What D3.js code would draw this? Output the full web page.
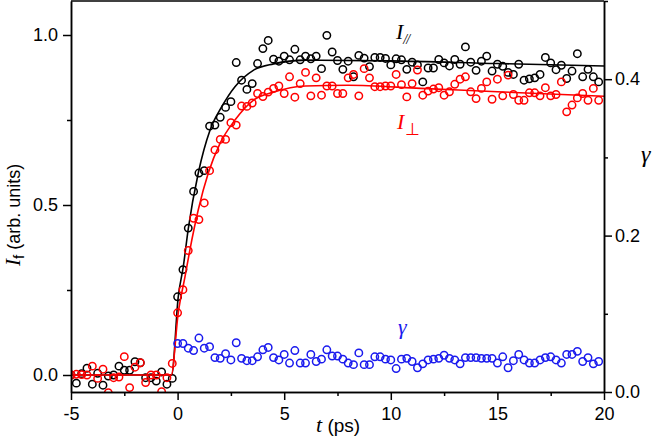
<!DOCTYPE html>
<html><head><meta charset="utf-8">
<script src="https://cdn.jsdelivr.net/npm/d3@7"></script>
<style>body{margin:0;background:#fff} svg{display:block}</style>
</head><body>
<svg id="c" width="655" height="439"></svg>
<script>
// time sampling of the measured series (ps)
const tStart = -5, tStep = 0.25;
// I parallel (black)
const iPar = [0.000,-0.024,0.004,0.020,-0.027,0.005,-0.030,-0.003,0.000,0.026,
 0.014,0.014,0.039,0.036,-0.008,-0.008,-0.018,0.009,-0.027,-0.010,
 0.230,0.310,0.432,0.540,0.594,0.601,0.732,0.735,0.758,0.787,
 0.804,0.919,0.867,0.840,0.857,0.916,0.960,0.984,0.929,0.923,
 0.938,0.927,0.958,0.927,0.938,0.930,0.938,0.901,0.999,0.950,
 0.925,0.899,0.923,0.877,0.940,0.932,0.907,0.934,0.934,0.931,
 0.912,0.930,0.927,0.899,0.920,0.912,0.862,0.903,0.903,0.928,
 0.918,0.909,0.928,0.914,0.965,0.920,0.896,0.923,0.938,0.894,
 0.914,0.908,0.890,0.884,0.914,0.867,0.871,0.874,0.884,0.934,
 0.918,0.898,0.911,0.872,0.894,0.945,0.877,0.899,0.877,0.862];
// I perpendicular (red)
const iPerp = [0.000,0.002,0.001,0.000,0.026,-0.010,0.017,-0.052,-0.008,-0.006,
 0.054,-0.037,0.023,0.036,-0.022,0.000,0.000,-0.049,-0.008,0.034,
 0.183,0.251,0.366,0.461,0.457,0.506,0.601,0.662,0.693,0.693,
 0.742,0.735,0.791,0.790,0.800,0.828,0.819,0.832,0.843,0.850,
 0.828,0.877,0.817,0.857,0.890,0.821,0.874,0.823,0.850,0.850,
 0.828,0.828,0.874,0.884,0.821,0.901,0.874,0.848,0.848,0.850,
 0.850,0.884,0.854,0.818,0.857,0.897,0.823,0.835,0.841,0.845,
 0.823,0.833,0.855,0.870,0.877,0.833,0.813,0.843,0.862,0.811,
 0.870,0.821,0.882,0.825,0.808,0.808,0.830,0.830,0.821,0.845,
 0.821,0.825,0.862,0.774,0.794,0.815,0.828,0.808,0.843,0.808];
// anisotropy gamma (blue), starts at t = 0
const gammaStart = 0;
const gamma = [0.062,0.062,0.056,0.053,0.069,0.056,0.058,0.044,0.043,0.049,
 0.041,0.063,0.043,0.040,0.040,0.045,0.054,0.057,0.044,0.041,
 0.048,0.037,0.053,0.037,0.037,0.048,0.039,0.042,0.054,0.046,
 0.046,0.042,0.037,0.035,0.050,0.035,0.035,0.045,0.045,0.042,
 0.041,0.030,0.042,0.043,0.039,0.031,0.036,0.041,0.042,0.043,
 0.047,0.043,0.041,0.036,0.044,0.044,0.044,0.043,0.043,0.043,
 0.037,0.045,0.031,0.040,0.048,0.041,0.037,0.037,0.041,0.044,
 0.045,0.041,0.037,0.048,0.048,0.052,0.039,0.044,0.036,0.039];
// fitted curves
const fitParT = [-5,-0.28,0.03,0.27,0.5,0.97,1.52,2.07,2.69,3.55,4.5,6,10,15,20];
const fitParV = [0,0,0.23,0.32,0.43,0.594,0.72,0.789,0.848,0.896,0.915,0.926,0.924,0.916,0.909];
const fitPerpT = [-5,-0.3,0.03,0.35,0.58,0.97,1.44,1.99,2.69,3.55,4.5,6,8,11.4,15,20];
const fitPerpV = [0,0,0.183,0.29,0.369,0.486,0.594,0.681,0.75,0.808,0.832,0.85,0.852,0.843,0.833,0.82];
// ticks
const xTicks = [-5,0,5,10,15,20], xTickLabels = ["-5","0","5","10","15","20"];
const xMinor = [-2.5,2.5,7.5,12.5,17.5];
const yLTicks = [0,0.5,1.0], yLTickLabels = ["0.0","0.5","1.0"], yLMinor = [0.25,0.75];
const yRTicks = [0,0.2,0.4], yRTickLabels = ["0.0","0.2","0.4"], yRMinor = [0.1,0.3,0.5];

const L=71, R=604, T=1, B=392;
const svg = d3.select("#c");
const x = d3.scaleLinear([-5,20],[L,R]);
const yL = d3.scaleLinear([-0.05,1.1],[B,T]);
const yR = d3.scaleLinear([0,0.5],[B,T]);
const sans = "'Liberation Sans', Arial, sans-serif";
const serif = "'Liberation Serif', 'Times New Roman', serif";

svg.append("defs").append("clipPath").attr("id","clip")
  .append("rect").attr("x",L).attr("y",T).attr("width",R-L).attr("height",B-T);

const plot = svg.append("g").attr("clip-path","url(#clip)");
const parPts = iPar.map((v,i)=>({t:tStart+i*tStep, v}));
const perpPts = iPerp.map((v,i)=>({t:tStart+i*tStep, v}));
const gPts = gamma.map((v,i)=>({t:gammaStart+i*tStep, v}));

function circles(data, ys, color){
  plot.append("g").selectAll("circle").data(data).join("circle")
    .attr("cx",d=>x(d.t)).attr("cy",d=>ys(d.v)).attr("r",3.7)
    .attr("fill","none").attr("stroke",color).attr("stroke-width",1.5);
}
const line = d3.line().x(d=>x(d[0])).y(d=>yL(d[1])).curve(d3.curveMonotoneX);
circles(parPts, yL, "#000");
plot.append("path").attr("d", line(fitParT.map((t,i)=>[t,fitParV[i]])))
  .attr("fill","none").attr("stroke","#000").attr("stroke-width",1.6);
circles(perpPts, yL, "#f00");
plot.append("path").attr("d", line(fitPerpT.map((t,i)=>[t,fitPerpV[i]])))
  .attr("fill","none").attr("stroke","#f00").attr("stroke-width",1.6);
circles(gPts, yR, "#1a1aee");

// axes
function style(g){
  g.selectAll("path,line").attr("stroke","#000").attr("stroke-width",1.5);
  g.selectAll("text").attr("font-family",sans).attr("font-size",18).attr("fill","#000");
}
svg.append("g").attr("transform",`translate(0,${B})`)
  .call(d3.axisBottom(x).tickValues(xTicks).tickFormat((d,i)=>xTickLabels[i]).tickSize(8).tickSizeOuter(0).tickPadding(7)).call(style);
svg.append("g").attr("transform",`translate(0,${B})`)
  .call(d3.axisBottom(x).tickValues(xMinor).tickFormat("").tickSize(4).tickSizeOuter(0)).call(style);
svg.append("g").attr("transform",`translate(${L},0)`)
  .call(d3.axisLeft(yL).tickValues(yLTicks).tickFormat((d,i)=>yLTickLabels[i]).tickSize(8).tickSizeOuter(0).tickPadding(5)).call(style);
svg.append("g").attr("transform",`translate(${L},0)`)
  .call(d3.axisLeft(yL).tickValues(yLMinor).tickFormat("").tickSize(4).tickSizeOuter(0)).call(style);
svg.append("g").attr("transform",`translate(${R},0)`)
  .call(d3.axisRight(yR).tickValues(yRTicks).tickFormat((d,i)=>yRTickLabels[i]).tickSize(8).tickSizeOuter(0).tickPadding(3)).call(style);
svg.append("g").attr("transform",`translate(${R},0)`)
  .call(d3.axisRight(yR).tickValues(yRMinor).tickFormat("").tickSize(4).tickSizeOuter(0)).call(style);
svg.append("line").attr("x1",L).attr("x2",R).attr("y1",T).attr("y2",T)
  .attr("stroke","#000").attr("stroke-width",1.5);

// axis titles
const xt = svg.append("text").attr("x",316).attr("y",432).attr("font-family",sans).attr("font-size",19);
xt.append("tspan").attr("font-family",serif).attr("font-style","italic").attr("font-size",22).text("t");
xt.append("tspan").text(" (ps)");

const yt = svg.append("text").attr("transform","translate(20,266) rotate(-90)").attr("font-family",sans).attr("font-size",18);
yt.append("tspan").attr("font-family",serif).attr("font-style","italic").attr("font-size",21).text("I");
yt.append("tspan").attr("font-size",15).attr("dy",4).text("f");
yt.append("tspan").attr("dy",-4).text(" (arb. units)");

svg.append("text").attr("x",641).attr("y",162).attr("font-family",serif).attr("font-style","italic")
  .attr("font-size",24).text("γ");

// series labels
const lp = svg.append("text").attr("x",396).attr("y",39).attr("font-family",serif).attr("font-style","italic")
  .attr("font-size",22).attr("fill","#000");
lp.append("tspan").text("I");
lp.append("tspan").attr("font-size",14).attr("dy",5).attr("letter-spacing",-1).text("//");
const lq = svg.append("text").attr("x",397).attr("y",129).attr("font-family",serif).attr("font-style","italic")
  .attr("font-size",22).attr("fill","#f00");
lq.append("tspan").text("I");
lq.append("tspan").attr("font-family","'DejaVu Sans', sans-serif").attr("font-style","normal")
  .attr("font-size",17).attr("dy",6).attr("dx",1).text("⊥");
svg.append("text").attr("x",398).attr("y",334).attr("font-family",serif).attr("font-style","italic")
  .attr("font-size",22).attr("fill","#1a1aee").text("γ");
</script>
</body></html>
